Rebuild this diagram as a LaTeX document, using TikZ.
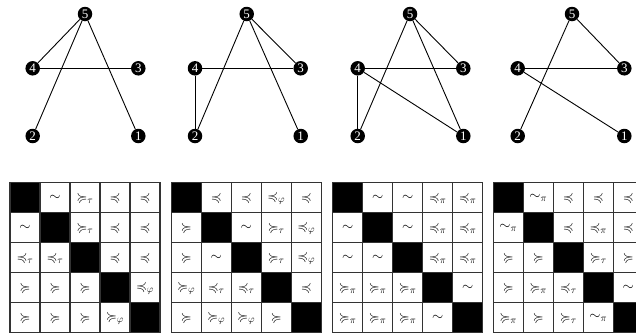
\documentclass[tikz,border=0pt]{standalone}
\usepackage{amssymb}
\usepackage{fontspec}
\newfontfamily\numfont{Liberation Serif}
\tikzset{
  vtx/.style={circle,fill=black,text=white,inner sep=0pt,minimum size=14.5pt,font=\numfont\fontsize{13}{13}\selectfont},
  edge/.style={line width=0.9pt,black},
  cell/.style={draw=black!80,line width=1.1pt,minimum size=30pt,inner sep=0pt,font=\fontsize{14}{16}\selectfont},
}
\newcommand\mrow[4]{% #1 matrix id, #2 x-left, #3 row, #4 entries
  \foreach \e [count=\c] in {#4} {
    \ifnum\c=#3
      \node[cell,fill=black] (m#1-#3-\c) at ({#2+30*\c-15},{182.7+30*#3-15}) {};
    \else
      \node[cell] (m#1-#3-\c) at ({#2+30*\c-15},{182.7+30*#3-15}) {$\e$};
    \fi
  }}
\newcommand\graphnodes[4]{% #1 id, #2 x5, #3 x4, #4 x3
  \node[vtx] (g#1-5) at (#2,14) {5};
  \node[vtx] (g#1-4) at (#3,68.3) {4};
  \node[vtx] (g#1-3) at (#4,68.3) {3};
  \node[vtx] (g#1-2) at (#3,136) {2};
  \node[vtx] (g#1-1) at (#4,136) {1};
}
\begin{document}
\begin{tikzpicture}[x=1pt,y=-1pt]
\clip (0,0) rectangle (636,335);
\fill[white] (0,0) rectangle (636,335);
% graphs
\graphnodes{a}{85}{32.7}{138.3}
\graphnodes{b}{246.7}{195}{300.7}
\graphnodes{c}{410}{357.7}{463.3}
\graphnodes{d}{572}{517.7}{624.3}
\draw[edge] (ga-5) -- (ga-4);
\draw[edge] (ga-5) -- (ga-2);
\draw[edge] (ga-5) -- (ga-1);
\draw[edge] (ga-4) -- (ga-3);
\draw[edge] (gb-5) -- (gb-2);
\draw[edge] (gb-5) -- (gb-3);
\draw[edge] (gb-5) -- (gb-1);
\draw[edge] (gb-4) -- (gb-3);
\draw[edge] (gb-4) -- (gb-2);
\draw[edge] (gc-5) -- (gc-2);
\draw[edge] (gc-5) -- (gc-3);
\draw[edge] (gc-5) -- (gc-1);
\draw[edge] (gc-4) -- (gc-3);
\draw[edge] (gc-4) -- (gc-2);
\draw[edge] (gc-4) -- (gc-1);
\draw[edge] (gd-5) -- (gd-2);
\draw[edge] (gd-5) -- (gd-3);
\draw[edge] (gd-4) -- (gd-3);
\draw[edge] (gd-4) -- (gd-1);
% matrix 1
\mrow{1}{10}{1}{X,\sim,\succcurlyeq_\tau,\preccurlyeq,\preccurlyeq}
\mrow{1}{10}{2}{\sim,X,\succcurlyeq_\tau,\preccurlyeq,\preccurlyeq}
\mrow{1}{10}{3}{\preccurlyeq_\tau,\preccurlyeq_\tau,X,\preccurlyeq,\preccurlyeq}
\mrow{1}{10}{4}{\succcurlyeq,\succcurlyeq,\succcurlyeq,X,\preccurlyeq_\varphi}
\mrow{1}{10}{5}{\succcurlyeq,\succcurlyeq,\succcurlyeq,\succcurlyeq_\varphi,X}
% matrix 2
\mrow{2}{171.3}{1}{X,\preccurlyeq,\preccurlyeq,\preccurlyeq_\varphi,\preccurlyeq}
\mrow{2}{171.3}{2}{\succcurlyeq,X,\sim,\succcurlyeq_\tau,\preccurlyeq_\varphi}
\mrow{2}{171.3}{3}{\succcurlyeq,\sim,X,\succcurlyeq_\tau,\preccurlyeq_\varphi}
\mrow{2}{171.3}{4}{\succcurlyeq_\varphi,\preccurlyeq_\tau,\preccurlyeq_\tau,X,\preccurlyeq}
\mrow{2}{171.3}{5}{\succcurlyeq,\succcurlyeq_\varphi,\succcurlyeq_\varphi,\succcurlyeq,X}
% matrix 3
\mrow{3}{332.7}{1}{X,\sim,\sim,\preccurlyeq_\pi,\preccurlyeq_\pi}
\mrow{3}{332.7}{2}{\sim,X,\sim,\preccurlyeq_\pi,\preccurlyeq_\pi}
\mrow{3}{332.7}{3}{\sim,\sim,X,\preccurlyeq_\pi,\preccurlyeq_\pi}
\mrow{3}{332.7}{4}{\succcurlyeq_\pi,\succcurlyeq_\pi,\succcurlyeq_\pi,X,\sim}
\mrow{3}{332.7}{5}{\succcurlyeq_\pi,\succcurlyeq_\pi,\succcurlyeq_\pi,\sim,X}
% matrix 4
\mrow{4}{493.3}{1}{X,\sim_\pi,\preccurlyeq,\preccurlyeq,\preccurlyeq}
\mrow{4}{493.3}{2}{\sim_\pi,X,\preccurlyeq,\preccurlyeq_\pi,\preccurlyeq}
\mrow{4}{493.3}{3}{\succcurlyeq,\succcurlyeq,X,\succcurlyeq_\tau,\succcurlyeq}
\mrow{4}{493.3}{4}{\succcurlyeq,\succcurlyeq_\pi,\preccurlyeq_\tau,X,\sim}
\mrow{4}{493.3}{5}{\succcurlyeq_\pi,\succcurlyeq,\succcurlyeq_\tau,\sim_\pi,X}
\end{tikzpicture}
\end{document}
